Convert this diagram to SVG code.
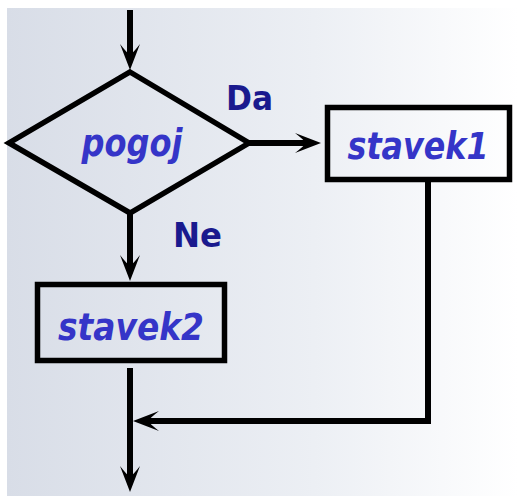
<svg xmlns="http://www.w3.org/2000/svg" width="518" height="496" viewBox="0 0 518 496">
<defs>
<linearGradient id="bg" x1="0" y1="0" x2="1" y2="0">
<stop offset="0" stop-color="#d8dde7"/>
<stop offset="0.6" stop-color="#eceff4"/>
<stop offset="1" stop-color="#ffffff"/>
</linearGradient>
<marker id="arr" markerUnits="userSpaceOnUse" viewBox="-30 -12 34 24" refX="-10" refY="0" markerWidth="34" markerHeight="24" orient="auto">
<path d="M0,0 L-26,-10 Q-17,-3 -15,0 Q-17,3 -26,10 Z" fill="#000"/>
</marker>
<style>
.ln{fill:none;stroke:#000;stroke-width:6}
.box{fill:none;stroke:#000;stroke-width:5.5}
.lbl{font-family:"DejaVu Sans",Verdana,sans-serif;font-weight:bold;font-style:italic;fill:#3535c8;text-anchor:middle;font-size:37px}
.br{font-family:"DejaVu Sans",Verdana,sans-serif;font-weight:bold;fill:#1a1a8e;font-size:34px}
</style>
</defs>
<rect x="0" y="0" width="518" height="496" fill="#ffffff"/>
<rect x="7" y="8" width="511" height="488" fill="url(#bg)"/>
<g id="connectors">
<line class="ln" x1="130" y1="10" x2="130" y2="60" marker-end="url(#arr)"/>
<line class="ln" x1="249" y1="143" x2="311" y2="143" marker-end="url(#arr)"/>
<line class="ln" x1="130" y1="213" x2="130" y2="271" marker-end="url(#arr)"/>
<polyline class="ln" points="428,181 428,421 143,421" marker-end="url(#arr)"/>
<line class="ln" x1="130" y1="368" x2="130" y2="482" marker-end="url(#arr)"/>
<text class="br" x="226" y="110" textLength="47" lengthAdjust="spacingAndGlyphs">Da</text>
<text class="br" x="173" y="247" textLength="49" lengthAdjust="spacingAndGlyphs">Ne</text>
</g>
<g id="pogoj">
<polygon class="box" points="130,72 249,143 130,213 9,143"/>
<text class="lbl" x="132" y="156" textLength="101" lengthAdjust="spacingAndGlyphs">pogoj</text>
</g>
<g id="stavek1">
<rect class="box" x="327.5" y="107.5" width="182" height="72"/>
<text class="lbl" x="418" y="159" textLength="141" lengthAdjust="spacingAndGlyphs">stavek1</text>
</g>
<g id="stavek2">
<rect class="box" x="37.5" y="284.5" width="187" height="76"/>
<text class="lbl" x="131" y="340" textLength="146" lengthAdjust="spacingAndGlyphs">stavek2</text>
</g>
</svg>
